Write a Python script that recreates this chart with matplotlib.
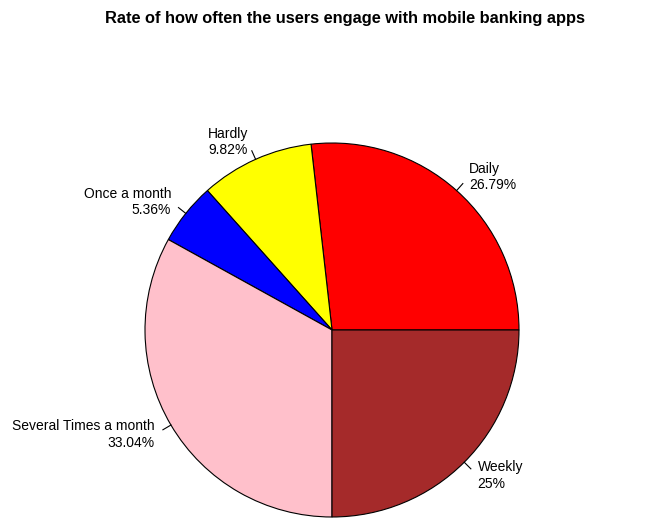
import numpy as np
import matplotlib.pyplot as plt

plt.rcParams["font.family"] = ["Liberation Sans", "DejaVu Sans"]

categories = ["Daily", "Hardly", "Once a month", "Several Times a month", "Weekly"]
percentages = [26.79, 9.82, 5.36, 33.04, 25.0]
pct_labels = ["26.79%", "9.82%", "5.36%", "33.04%", "25%"]
colors = ["red", "yellow", "blue", "pink", "brown"]

W, H = 655, 531
fig = plt.figure(figsize=(W / 100, H / 100), dpi=100)
ax = fig.add_axes([0, 0, 1, 1])

cx, cy, r = 332, H - 330, 187
wedges, _ = ax.pie(percentages, colors=colors, startangle=0, counterclock=True,
                   center=(cx, cy), radius=r,
                   wedgeprops=dict(edgecolor="black", linewidth=0.8))

for w, cat, pl in zip(wedges, categories, pct_labels):
    mid = np.deg2rad((w.theta1 + w.theta2) / 2)
    c, s = np.cos(mid), np.sin(mid)
    ax.plot([cx + r * c, cx + 1.05 * r * c], [cy + r * s, cy + 1.05 * r * s],
            color="black", lw=0.8)
    ha = "left" if c > 0 else "right"
    ax.text(cx + 1.1 * r * c, cy + 1.1 * r * s, f"{cat}\n{pl}", ha=ha, va="center",
            multialignment=ha, fontsize=10)

ax.set_xlim(0, W)
ax.set_ylim(0, H)
ax.set_aspect("equal")
ax.axis("off")

fig.text(0.527, 1 - 19 / H, "Rate of how often the users engage with mobile banking apps",
         ha="center", va="center", fontsize=11.8, fontweight="bold")

fig.savefig("out.png", dpi=100)
